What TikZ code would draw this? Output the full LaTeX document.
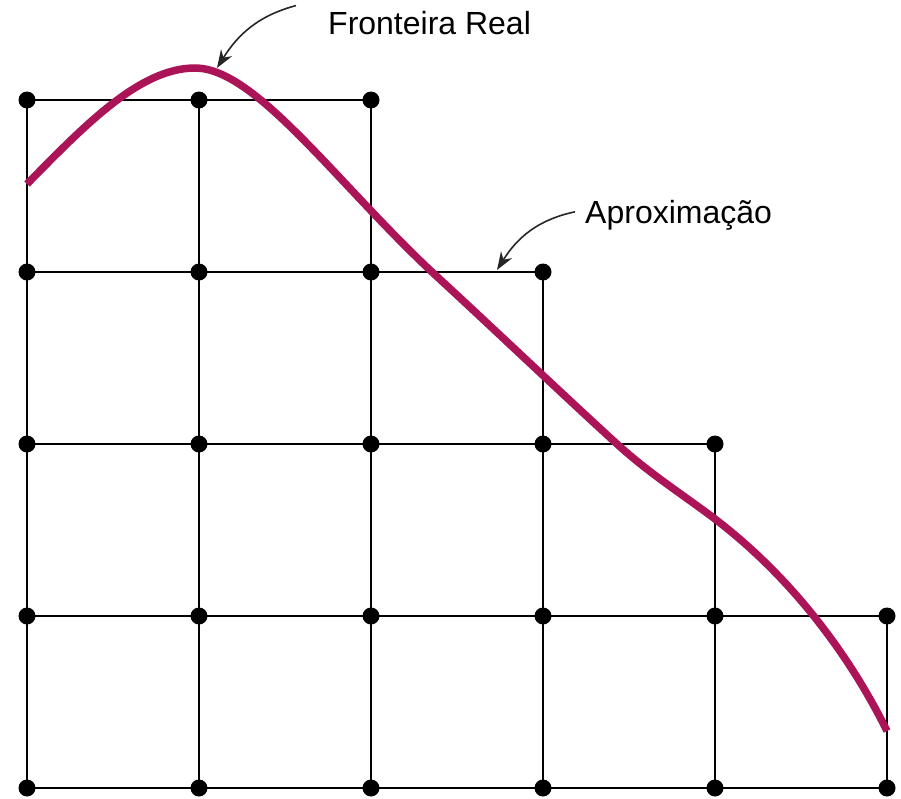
\documentclass[tikz,border=0pt]{standalone}
\usepackage{fontspec}
\setmainfont{Liberation Sans}
\usetikzlibrary{arrows.meta}
\definecolor{frontier}{RGB}{172,20,88}
\begin{document}
\begin{tikzpicture}[x=1pt,y=-1pt,
  gridline/.style={line width=2.7pt,black},
  dot/.style={circle,fill=black,inner sep=0pt,minimum size=17pt},
  frontierline/.style={line width=7.5pt,frontier},
  pointer/.style={line width=1.6pt,black!85,-{Stealth[length=18pt,width=13pt]}},
  label/.style={inner sep=0pt,anchor=base west,font=\fontsize{32}{38}\selectfont}]
\useasboundingbox (0,0) rectangle (901,798);
% grid coordinates: columns 1..6, rows 1..5
\foreach \c/\x in {1/27,2/199,3/371,4/543,5/715,6/887}{
  \foreach \r/\y in {1/100,2/272,3/444,4/616,5/788}{
    \coordinate (p\c\r) at (\x,\y);
  }
}
% horizontal lines
\draw[gridline] (p11) -- (p31);
\draw[gridline] (p12) -- (p42);
\draw[gridline] (p13) -- (p53);
\draw[gridline] (p14) -- (p64);
\draw[gridline] (p15) -- (p65);
% vertical lines
\draw[gridline] (p11) -- (p15);
\draw[gridline] (p21) -- (p25);
\draw[gridline] (p31) -- (p35);
\draw[gridline] (p42) -- (p45);
\draw[gridline] (p53) -- (p55);
\draw[gridline] (p64) -- (p65);
% frontier curve
\draw[frontierline] (27,184) .. controls (85,125) and (140,68) .. (195,68)
  .. controls (255,68) and (335,181) .. (432,272)
  .. controls (494,329) and (560,392) .. (617,444)
  .. controls (650,474) and (682,494) .. (715,519)
  .. controls (795,580) and (852,660) .. (887,731);
% dots
\foreach \p in {11,21,31,12,22,32,42,13,23,33,43,53,14,24,34,44,54,64,15,25,35,45,55,65}{
  \node[dot] (d\p) at (p\p) {};
}
% labels
\node[label] (fr) at (328,34) {Fronteira Real};
\node[label] (ap) at (585,223) {Aproximação};
\coordinate (frtip) at (217,68);
\coordinate (aptip) at (497,270);
\draw[pointer] (fr.west) ++(-32,-17) to[out=195,in=58] (frtip);
\draw[pointer] (ap.west) ++(-10,-3) to[out=192,in=58] (aptip);
\end{tikzpicture}
\end{document}
